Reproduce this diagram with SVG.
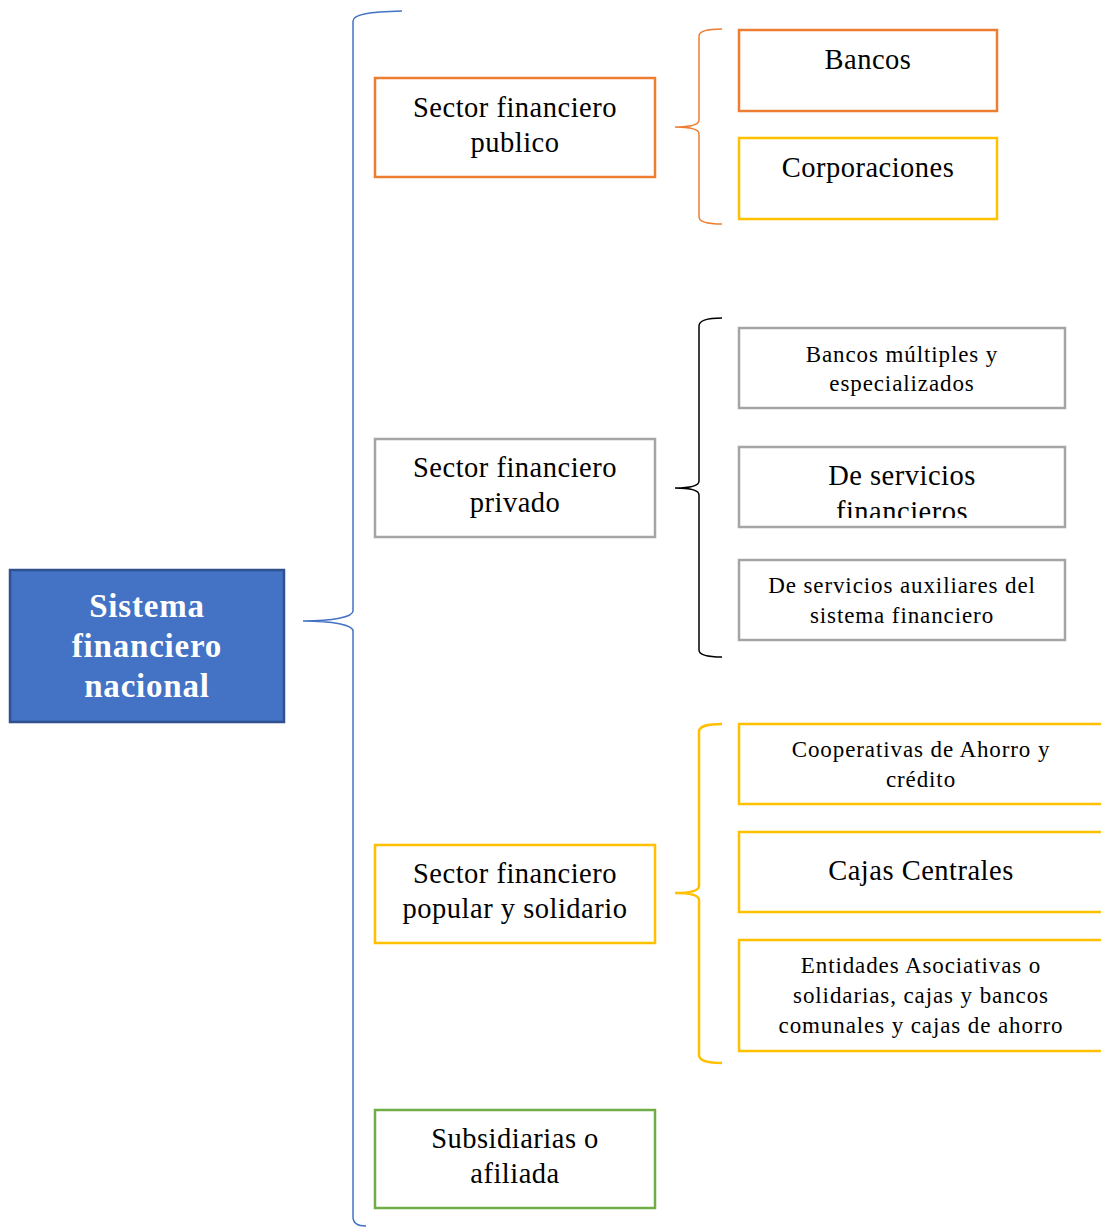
<svg xmlns="http://www.w3.org/2000/svg" width="1101" height="1228" viewBox="0 0 1101 1228">
<style>
.box{fill:#fff;stroke-width:2.5}
.or{stroke:#ED7D31}.gd{stroke:#FFC000}.gr{stroke:#A5A5A5}.gn{stroke:#70AD47}
.t{font-family:"Liberation Serif","DejaVu Serif",serif;fill:#000;text-anchor:middle}
.t26{font-size:28.5px;letter-spacing:0.5px}.t20{font-size:23px;letter-spacing:0.9px}
.main{font-family:"Liberation Serif","DejaVu Serif",serif;font-weight:bold;font-size:33px;letter-spacing:0.8px;fill:#fff;text-anchor:middle}
.br{fill:none;stroke-width:1.5}
.brk{stroke-width:2.5}
</style>
<defs><clipPath id="clipDS"><rect x="739" y="447" width="326" height="71"/></clipPath></defs>
<g id="connectors">
<path class="br" stroke="#4472C4" d="M402,11 C370,12 353,14 353,21 L353,611 C353,617 333,621 303,621 C333,621 353,625 353,631 L353,1217 C353,1223 357,1226 366,1226"/>
<path class="br" stroke="#ED7D31" d="M722,29 C707,29 699,31 699,36 L699,120 C699,125 690,127 675,127 C690,127 699,129 699,134 L699,217 C699,222 707,224 722,224"/>
<path class="br" stroke="#000" d="M722,318 C707,318 699,320 699,326 L699,481 C699,486 690,488 675,488 C690,488 699,490 699,495 L699,650 C699,655 707,657 722,657"/>
<path class="br brk" stroke="#FFC000" d="M722,724 C707,724 699,726 699,732 L699,886 C699,891 690,893 675,893 C690,893 699,895 699,900 L699,1055 C699,1060 707,1063 722,1063"/>
</g>
<g id="n-main"><rect x="10" y="570" width="274" height="152" fill="#4472C4" stroke="#2F528F" stroke-width="2.5"/>
<text class="main" x="147" y="617">Sistema</text><text class="main" x="147" y="657">financiero</text><text class="main" x="147" y="697">nacional</text></g>
<g id="n-publico"><rect class="box or" x="375" y="78" width="280" height="99"/>
<text class="t t26" x="515" y="117">Sector financiero</text><text class="t t26" x="515" y="152">publico</text></g>
<g id="n-privado"><rect class="box gr" x="375" y="439" width="280" height="98"/>
<text class="t t26" x="515" y="477">Sector financiero</text><text class="t t26" x="515" y="512">privado</text></g>
<g id="n-popular"><rect class="box gd" x="375" y="845" width="280" height="98"/>
<text class="t t26" x="515" y="883">Sector financiero</text><text class="t t26" x="515" y="918">popular y solidario</text></g>
<g id="n-subsidiarias"><rect class="box gn" x="375" y="1110" width="280" height="98"/>
<text class="t t26" x="515" y="1148">Subsidiarias o</text><text class="t t26" x="515" y="1183">afiliada</text></g>
<g id="n-bancos"><rect class="box or" x="739" y="30" width="258" height="81"/>
<text class="t t26" x="868" y="69">Bancos</text></g>
<g id="n-corporaciones"><rect class="box gd" x="739" y="138" width="258" height="81"/>
<text class="t t26" x="868" y="177">Corporaciones</text></g>
<g id="n-multiples"><rect class="box gr" x="739" y="328" width="326" height="80"/>
<text class="t t20" x="902" y="362">Bancos múltiples y</text><text class="t t20" x="902" y="391">especializados</text></g>
<g id="n-servicios"><rect class="box gr" x="739" y="447" width="326" height="80"/>
<g clip-path="url(#clipDS)"><text class="t t26" x="902" y="485">De servicios</text><text class="t t26" x="902" y="521">financieros</text></g></g>
<g id="n-auxiliares"><rect class="box gr" x="739" y="560" width="326" height="80"/>
<text class="t t20" x="902" y="593">De servicios auxiliares del</text><text class="t t20" x="902" y="623">sistema financiero</text></g>
<g id="n-cooperativas"><rect class="box gd" x="739" y="724" width="370" height="80"/>
<text class="t t20" x="921" y="757">Cooperativas de Ahorro y</text><text class="t t20" x="921" y="787">crédito</text></g>
<g id="n-cajas"><rect class="box gd" x="739" y="832" width="370" height="80"/>
<text class="t t26" x="921" y="880">Cajas Centrales</text></g>
<g id="n-entidades"><rect class="box gd" x="739" y="940" width="370" height="111"/>
<text class="t t20" x="921" y="973">Entidades Asociativas o</text><text class="t t20" x="921" y="1003">solidarias, cajas y bancos</text><text class="t t20" x="921" y="1033">comunales y cajas de ahorro</text></g>
</svg>
